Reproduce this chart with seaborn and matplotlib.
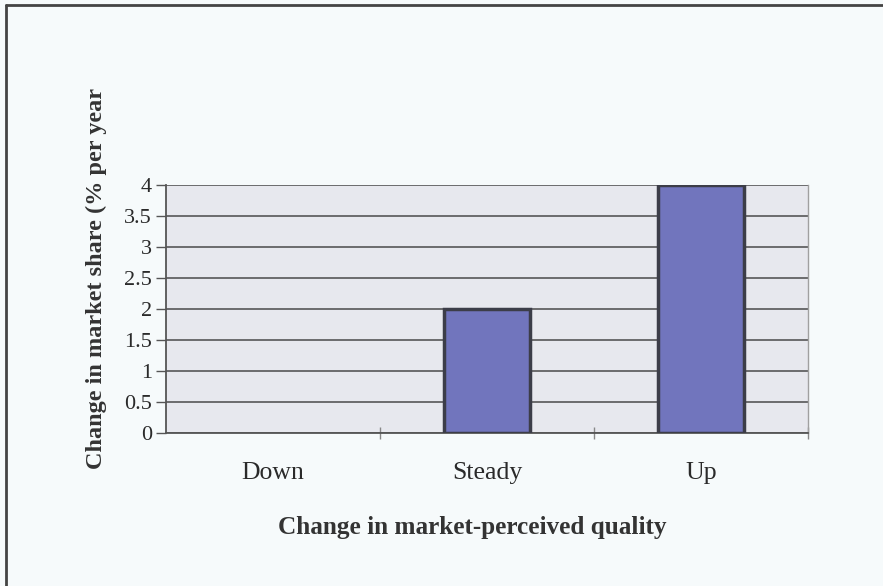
import matplotlib
matplotlib.use("Agg")
import matplotlib.pyplot as plt
from matplotlib.lines import Line2D
from matplotlib.ticker import FixedLocator
import seaborn as sns
import pandas as pd

categories = ["Down", "Steady", "Up"]
share_change = [0, 2, 4]
y_ticks = [0, 0.5, 1, 1.5, 2, 2.5, 3, 3.5, 4]
y_tick_labels = ["0", "0.5", "1", "1.5", "2", "2.5", "3", "3.5", "4"]

sns.set_theme(style="white")
plt.rcParams["font.family"] = ["Liberation Serif", "DejaVu Serif"]

df = pd.DataFrame({"quality": categories, "share": share_change})

fig = plt.figure(figsize=(8.83, 5.86), dpi=100)
fig.patch.set_facecolor("#f6fafb")
ax = fig.add_axes([166 / 883, 1 - 433 / 586, (808 - 166) / 883, (433 - 185) / 586])
ax.set_facecolor("#e7e8ee")

sns.barplot(data=df, x="quality", y="share", order=categories, width=0.4,
            color="#7175bd", saturation=1, edgecolor="#3c3d48", linewidth=2.5,
            ax=ax, zorder=3)
# a zero-height bar leaves no visible outline
for bar in ax.patches:
    if bar.get_height() == 0:
        bar.set_linewidth(0)

ax.set_xlim(-0.5, 2.5)
ax.set_ylim(0, 4)
ax.set_yticks(y_ticks)
ax.set_yticklabels(y_tick_labels)
ax.yaxis.grid(True, color="#4a4a4a", linewidth=1.1, zorder=1)
ax.set_axisbelow(True)

ax.xaxis.set_minor_locator(FixedLocator([0.5, 1.5, 2.5]))
ax.tick_params(axis="x", which="major", length=0, pad=21, labelsize=18.5, colors="#2a2a2a")
ax.tick_params(axis="x", which="minor", length=8, width=1, direction="inout",
               color="#888888", bottom=True)
ax.tick_params(axis="y", which="major", length=7, width=1, direction="out",
               color="#555555", left=True, labelsize=16, pad=3, labelcolor="#2a2a2a")

ax.spines["top"].set_visible(False)
ax.spines["left"].set_color("#555555")
ax.spines["left"].set_linewidth(1.3)
ax.spines["bottom"].set_color("#555555")
ax.spines["bottom"].set_linewidth(1.3)
ax.spines["right"].set_color("#a0a0a0")
ax.spines["right"].set_linewidth(1.0)

ax.set_xlabel("Change in market-perceived quality", fontsize=18.2, fontweight="bold",
              color="#333333")
ax.xaxis.set_label_coords(0.477, -0.335)
ax.set_ylabel("Change in market share (% per year", fontsize=17.5, fontweight="bold",
              color="#333333")
ax.yaxis.set_label_coords(-0.092, 0.621)

# outer frame edges
fig.add_artist(Line2D([6 / 883, 1.0], [1 - 5 / 586, 1 - 5 / 586], transform=fig.transFigure,
                      color="#444444", linewidth=2))
fig.add_artist(Line2D([6 / 883, 6 / 883], [0, 1 - 5 / 586], transform=fig.transFigure,
                      color="#444444", linewidth=2))

fig.savefig("out.png", dpi=100, facecolor=fig.get_facecolor())
